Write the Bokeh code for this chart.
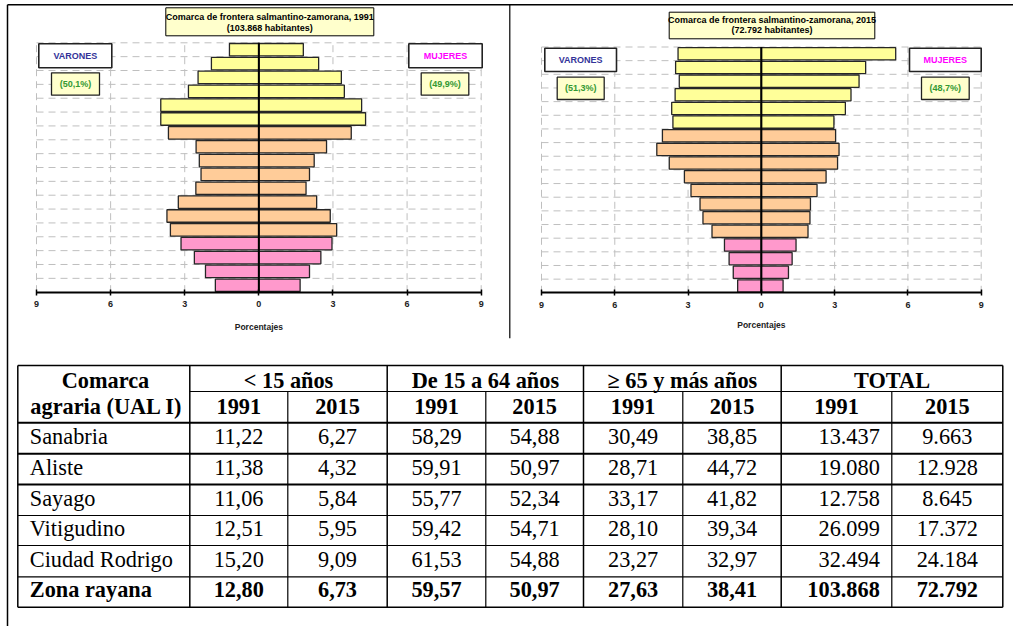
from bokeh.plotting import figure
from bokeh.models import Range1d, LinearAxis, FixedTicker, CustomJSTickFormatter, ColumnDataSource
from bokeh.embed import file_html
from bokeh.resources import INLINE
from bokeh.core.properties import value

# ---------------- data ----------------
age_groups = ["0-4", "5-9", "10-14", "15-19", "20-24", "25-29", "30-34", "35-39", "40-44",
              "45-49", "50-54", "55-59", "60-64", "65-69", "70-74", "75-79", "80-84", "85+"]
varones_1991 = [1.76, 2.16, 2.61, 3.15, 3.58, 3.72, 3.26, 2.55, 2.34, 2.41, 2.54, 3.66,
                3.97, 3.97, 2.85, 2.46, 1.92, 1.19]
mujeres_1991 = [1.67, 2.05, 2.51, 2.96, 3.15, 2.89, 2.34, 1.91, 2.05, 2.24, 2.74, 3.74,
                4.32, 4.16, 3.46, 3.34, 2.42, 1.80]
varones_2015 = [0.97, 1.15, 1.32, 1.51, 2.02, 2.39, 2.51, 2.88, 3.15, 3.77, 4.28, 4.05,
                3.62, 3.67, 3.53, 3.36, 3.51, 3.41]
mujeres_2015 = [0.89, 1.11, 1.26, 1.42, 1.91, 1.99, 2.01, 2.28, 2.65, 3.12, 3.18, 3.04,
                2.97, 3.44, 3.67, 4.00, 4.27, 5.50]
x_ticks = [-9, -6, -3, 0, 3, 6, 9]
titles_1991 = ["Comarca de frontera salmantino-zamorana, 1991", "(103.868 habitantes)"]
titles_2015 = ["Comarca de frontera salmantino-zamorana, 2015", "(72.792 habitantes)"]
share_1991 = ["(50,1%)", "(49,9%)"]
share_2015 = ["(51,3%)", "(48,7%)"]

regions = ["Sanabria", "Aliste", "Sayago", "Vitigudino", "Ciudad Rodrigo", "Zona rayana"]
menos15_1991 = [11.22, 11.38, 11.06, 12.51, 15.20, 12.80]
menos15_2015 = [6.27, 4.32, 5.84, 5.95, 9.09, 6.73]
de15a64_1991 = [58.29, 59.91, 55.77, 59.42, 61.53, 59.57]
de15a64_2015 = [54.88, 50.97, 52.34, 54.71, 54.88, 50.97]
mas65_1991 = [30.49, 28.71, 33.17, 28.10, 23.27, 27.63]
mas65_2015 = [38.85, 44.72, 41.82, 39.34, 32.97, 38.41]
total_1991 = [13437, 19080, 12758, 26099, 32494, 103868]
total_2015 = [9663, 12928, 8645, 17372, 24184, 72792]
group_headers = ["< 15 años", "De 15 a 64 años", "\u2265 65 y más años", "TOTAL"]
years = ["1991", "2015"]

# ---------------- layout / style ----------------
W, H = 1013, 626
PAGE_X0, PAGE_Y0 = 0, 0
PAGE_X1, PAGE_Y1 = PAGE_X0 + W, PAGE_Y0 + H
SANS = value("Liberation Sans")
SERIF = value("Liberation Serif")
band_colors = ["#FF99CC"] * 4 + ["#FFCC99"] * 8 + ["#FFFF99"] * 6

p = figure(width=W, height=H, x_range=Range1d(PAGE_X0, PAGE_X1), y_range=Range1d(PAGE_Y1, PAGE_Y0),
           x_axis_location=None, y_axis_location=None, toolbar_location=None,
           output_backend="svg", min_border=0, outline_line_color=None,
           background_fill_color="white", border_fill_color="white")
p.grid.visible = False

charts = {
    "L": dict(xm9=36.0, xp9=480.7, ytop=42.3, yaxis=291.7, ylabel=326.0,
              varones=varones_1991, mujeres=mujeres_1991, titles=titles_1991, shares=share_1991,
              title_box=(165.3, 373.3, 7.3, 35.3), title_y=(16.3, 27.5),
              vbox=(38.3, 111.3, 43.3, 67.3), pvbox=(51.0, 99.0, 72.3, 94.7),
              mbox=(408.3, 481.7, 43.3, 67.3), pmbox=(420.7, 468.3, 72.3, 94.7)),
    "R": dict(xm9=541.0, xp9=980.7, ytop=46.5, yaxis=292.3, ylabel=324.0,
              varones=varones_2015, mujeres=mujeres_2015, titles=titles_2015, shares=share_2015,
              title_box=(668.7, 874.3, 11.7, 38.3), title_y=(19.0, 29.7),
              vbox=(544.3, 616.0, 47.7, 71.0), pvbox=(556.7, 603.7, 76.7, 99.0),
              mbox=(909.0, 980.7, 47.7, 71.0), pmbox=(921.0, 968.7, 76.7, 99.0)),
}

n = len(age_groups)
xr, yr = {}, {}
for key, c in charts.items():
    sx = (c["xp9"] - c["xm9"]) / 18.0
    xr[key] = Range1d(-9 - (c["xm9"] - PAGE_X0) / sx, 9 + (PAGE_X1 - c["xp9"]) / sx)
    sy = (c["yaxis"] - c["ytop"]) / n
    yr[key] = Range1d(0 - (PAGE_Y1 - c["yaxis"]) / sy, n + (c["ytop"] - PAGE_Y0) / sy)
p.extra_x_ranges = xr
p.extra_y_ranges = yr

def box(l, r, t, b, fill, lw=1.0, lc="black"):
    p.quad(left=[l], right=[r], top=[t], bottom=[b], fill_color=fill, line_color=lc, line_width=lw)

def label(x, y, s, color="black", size="9px", font=SANS, style="bold", align="center",
          baseline="middle", xname="default", yname="default"):
    p.text(x=[x], y=[y], text=[s], text_color=color, text_font=font, text_font_size=size,
           text_font_style=style, text_align=align, text_baseline=baseline,
           x_range_name=xname, y_range_name=yname)

grid_v = [t for t in x_ticks if t != 0]
for key, c in charts.items():
    kw = dict(x_range_name=key, y_range_name=key)
    # dashed grid
    hy = list(range(1, n + 1))
    p.segment(x0=[-9] * len(hy), x1=[9] * len(hy), y0=hy, y1=hy,
              line_color="#BFBFBF", line_width=1, line_dash="7 5", **kw)
    p.segment(x0=grid_v, x1=grid_v, y0=[0] * len(grid_v), y1=[n] * len(grid_v),
              line_color="#BFBFBF", line_width=1, line_dash="7 5", **kw)
    # bars
    src = ColumnDataSource(dict(
        bottom=[i + 0.05 for i in range(n)], top=[i + 0.95 for i in range(n)],
        mleft=[-v for v in c["varones"]], fright=c["mujeres"], color=band_colors))
    p.quad(left="mleft", right=0, bottom="bottom", top="top", source=src,
           fill_color="color", line_color="#262626", line_width=1.3, **kw)
    p.quad(left=0, right="fright", bottom="bottom", top="top", source=src,
           fill_color="color", line_color="#262626", line_width=1.3, **kw)
    p.segment(x0=[0], x1=[0], y0=[0], y1=[n], line_color="black", line_width=2, **kw)
    # axis
    ax = LinearAxis(x_range_name=key, y_range_name=key, fixed_location=0, bounds=(-9, 9),
                    ticker=FixedTicker(ticks=x_ticks),
                    formatter=CustomJSTickFormatter(code="return Math.abs(tick).toString();"),
                    axis_line_width=2, axis_line_color="black",
                    major_tick_in=3, major_tick_out=3, major_tick_line_width=1.5,
                    major_tick_line_color="black", minor_tick_line_color=None,
                    major_label_standoff=6, major_label_text_font="Liberation Sans",
                    major_label_text_font_style="bold", major_label_text_font_size="9px",
                    major_label_text_color="#222222")
    p.add_layout(ax, "below")
    label(0, c["ylabel"], "Porcentajes", color="#222222", size="8.5px", xname=key)
    # title box
    l, r, t, b = c["title_box"]
    box(l, r, t, b, "#FFFFCC")
    for s, yy in zip(c["titles"], c["title_y"]):
        label((l + r) / 2, yy, s, size="9px")
    # legend boxes
    l, r, t, b = c["vbox"]
    box(l, r, t, b, "white", lw=1.6, lc="#222222")
    label((l + r) / 2, (t + b) / 2, "VARONES", color="#333399")
    l, r, t, b = c["pvbox"]
    box(l, r, t, b, "#FFFFCC", lw=1.3, lc="#222222")
    label((l + r) / 2, (t + b) / 2, c["shares"][0], color="#339933")
    l, r, t, b = c["mbox"]
    box(l, r, t, b, "white", lw=1.6, lc="#222222")
    label((l + r) / 2, (t + b) / 2, "MUJERES", color="#FF00FF")
    l, r, t, b = c["pmbox"]
    box(l, r, t, b, "#FFFFCC", lw=1.3, lc="#222222")
    label((l + r) / 2, (t + b) / 2, c["shares"][1], color="#339933")

# page frame lines
p.segment(x0=[7.0], x1=[7.0], y0=[4.3], y1=[PAGE_Y1], line_color="black", line_width=1.5)
p.segment(x0=[7.0], x1=[PAGE_X1], y0=[4.3], y1=[4.3], line_color="black", line_width=1.5)
p.segment(x0=[509.3], x1=[509.3], y0=[4.3], y1=[337.7], line_color="black", line_width=1.2)

# ---------------- table ----------------
col_edges = [17.3, 189.3, 287.3, 386.7, 485.3, 583.0, 682.3, 780.7, 891.3, 1002.3]
row_edges = [365.0, 391.0, 422.3, 453.3, 484.0, 515.0, 545.0, 576.3, 606.7]
h_widths = [1.5, 1.2, 2.0, 2.0, 2.0, 1.2, 1.2, 1.2, 1.5]
for i, (y, w) in enumerate(zip(row_edges, h_widths)):
    x0 = col_edges[1] if i == 1 else col_edges[0]
    p.segment(x0=[x0], x1=[col_edges[-1]], y0=[y], y1=[y], line_color="black", line_width=w)
for j, x in enumerate(col_edges):
    major = j in (0, 1, 3, 5, 7, 9)
    p.segment(x0=[x], x1=[x], y0=[row_edges[0] if major else row_edges[1]], y1=[row_edges[-1]],
              line_color="black", line_width=1.5 if major else 1.2)

FS = "22.3px"
HB1, HB2 = 380.3, 406.0
label(105, HB1, "Comarca", size=FS, font=SERIF, baseline="alphabetic")
label(106, HB2, "agraria (UAL I)", size=FS, font=SERIF, baseline="alphabetic")
for g, gh in enumerate(group_headers):
    cx = (col_edges[1 + 2 * g] + col_edges[3 + 2 * g]) / 2
    label(cx, HB1, gh, size=FS, font=SERIF, baseline="alphabetic")
    for k, yv in enumerate(years):
        cc = (col_edges[1 + 2 * g + k] + col_edges[2 + 2 * g + k]) / 2
        label(cc, HB2, yv, size=FS, font=SERIF, baseline="alphabetic")

def pct(v):
    return f"{v:.2f}".replace(".", ",")

def thousands(v):
    return f"{v:,}".replace(",", ".")

columns = [
    [pct(v) for v in menos15_1991], [pct(v) for v in menos15_2015],
    [pct(v) for v in de15a64_1991], [pct(v) for v in de15a64_2015],
    [pct(v) for v in mas65_1991], [pct(v) for v in mas65_2015],
    [thousands(v) for v in total_1991], [thousands(v) for v in total_2015],
]
for i, reg in enumerate(regions):
    yb = row_edges[3 + i] - 17.3
    st = "bold" if i == len(regions) - 1 else "normal"
    label(29.3, yb, reg, size=FS, font=SERIF, style=st, align="left", baseline="alphabetic")
    for k, col in enumerate(columns):
        if k == 6:
            label(col_edges[8] - 12, yb, col[i], size=FS, font=SERIF, style=st,
                  align="right", baseline="alphabetic")
        else:
            cc = (col_edges[1 + k] + col_edges[2 + k]) / 2
            label(cc, yb, col[i], size=FS, font=SERIF, style=st, baseline="alphabetic")

open("out.html", "w").write(file_html(p, INLINE))
